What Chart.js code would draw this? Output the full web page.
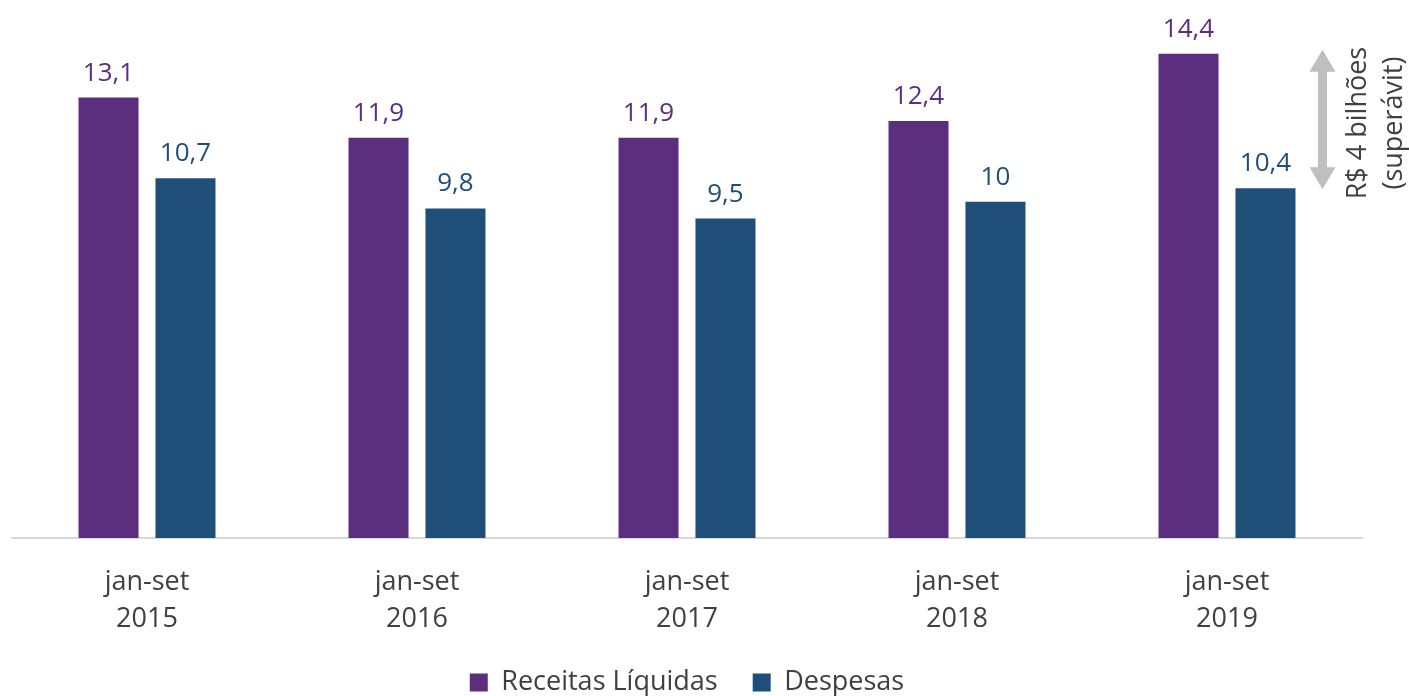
<!DOCTYPE html>
<html>
<head>
<meta charset="utf-8">
<script src="https://cdn.jsdelivr.net/npm/chart.js@4/dist/chart.umd.min.js"></script>
<style>
  html, body { margin: 0; padding: 0; background: #fff; overflow: hidden; }
  #wrap { width: 1409px; height: 696px; overflow: hidden; }
</style>
</head>
<body>
<div id="wrap"><canvas id="chart" width="1409" height="706"></canvas></div>
<script>
// dados (R$ bilhões)
const categories = [['jan-set', '2015'], ['jan-set', '2016'], ['jan-set', '2017'], ['jan-set', '2018'], ['jan-set', '2019']];
const receitas = [13.1, 11.9, 11.9, 12.4, 14.4];
const despesas = [10.7, 9.8, 9.5, 10, 10.4];
const seriesNames = ['Receitas Líquidas', 'Despesas'];
const annotationLines = ['R$ 4 bilhões', '(superávit)'];

const PURPLE = '#5c2f7e';
const BLUE = '#1f4e79';
const FONT = '"Open Sans", "Noto Sans", sans-serif';

function fmt(v) {
    return String(v).replace('.', ',');
}

// labels above the bars
const valueLabels = {
    id: 'valueLabels',
    afterDatasetsDraw(chart) {
        const ctx = chart.ctx;
        ctx.save();
        ctx.font = '26px ' + FONT;
        ctx.textAlign = 'center';
        ctx.textBaseline = 'alphabetic';
        chart.data.datasets.forEach((ds, i) => {
            const meta = chart.getDatasetMeta(i);
            ctx.fillStyle = ds.backgroundColor;
            meta.data.forEach((bar, j) => {
                ctx.fillText(fmt(ds.data[j]), bar.x, bar.y - 17);
            });
        });
        ctx.restore();
    }
};

// gray double arrow + rotated text on the right
const surplusArrow = {
    id: 'surplusArrow',
    afterDraw(chart) {
        const ctx = chart.ctx;
        const y = chart.scales.y;
        const last = receitas.length - 1;
        const blueBar = chart.getDatasetMeta(1).data[last];
        const top = y.getPixelForValue(receitas[last]);
        const bottom = y.getPixelForValue(despesas[last]);
        const x = blueBar.x + 57;
        const head = 13, headLen = 22, shaft = 4.5;
        ctx.save();
        ctx.fillStyle = '#bfbfbf';
        ctx.beginPath();
        ctx.moveTo(x, top - 4);
        ctx.lineTo(x + head, top - 4 + headLen);
        ctx.lineTo(x + shaft, top - 4 + headLen);
        ctx.lineTo(x + shaft, bottom + 1 - headLen);
        ctx.lineTo(x + head, bottom + 1 - headLen);
        ctx.lineTo(x, bottom + 1);
        ctx.lineTo(x - head, bottom + 1 - headLen);
        ctx.lineTo(x - shaft, bottom + 1 - headLen);
        ctx.lineTo(x - shaft, top - 4 + headLen);
        ctx.lineTo(x - head, top - 4 + headLen);
        ctx.closePath();
        ctx.fill();

        ctx.translate(x + 36, (top + bottom) / 2 + 2);
        ctx.rotate(-Math.PI / 2);
        ctx.fillStyle = '#404040';
        ctx.font = '27px ' + FONT;
        ctx.textAlign = 'center';
        ctx.textBaseline = 'middle';
        ctx.fillText(annotationLines[0], 0, 0);
        ctx.fillText(annotationLines[1], 0, 36);
        ctx.restore();
    }
};

new Chart(document.getElementById('chart').getContext('2d'), {
    type: 'bar',
    data: {
        labels: categories,
        datasets: [{
            label: seriesNames[0],
            data: receitas,
            backgroundColor: PURPLE
        }, {
            label: seriesNames[1],
            data: despesas,
            backgroundColor: BLUE
        }]
    },
    options: {
        responsive: false,
        animation: false,
        layout: { padding: { left: 12, right: 47, top: 0, bottom: 0 } },
        datasets: {
            bar: { categoryPercentage: 0.57, barPercentage: 0.78 }
        },
        scales: {
            x: {
                grid: { display: false, drawTicks: false },
                border: { color: '#d9d9d9', width: 2 },
                ticks: {
                    color: '#404040',
                    font: { family: FONT, size: 27, lineHeight: 1.4 },
                    padding: 25
                },
                afterFit(scale) {
                    scale.height = 96;
                }
            },
            y: {
                display: false,
                min: 0,
                max: 16
            }
        },
        plugins: {
            legend: {
                position: 'bottom',
                labels: {
                    color: '#404040',
                    font: { family: FONT, size: 27 },
                    boxWidth: 18,
                    boxHeight: 18,
                    padding: 35
                }
            },
            tooltip: { enabled: false }
        }
    },
    plugins: [valueLabels, surplusArrow]
});
</script>
</body>
</html>
